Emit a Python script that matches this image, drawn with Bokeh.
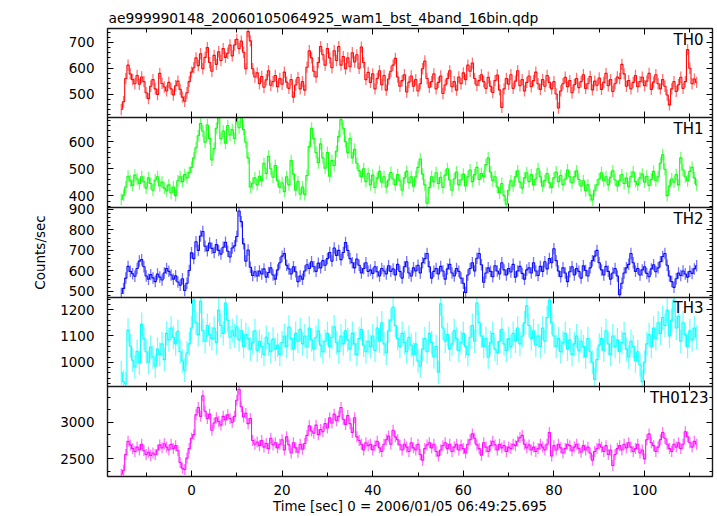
import math
from bokeh.plotting import figure
from bokeh.models import (ColumnDataSource, Range1d, LinearAxis, SingleIntervalTicker,
                          FixedTicker, CustomJSTickFormatter, AllLabels, Label)
from bokeh.embed import file_html
from bokeh.resources import INLINE

# ---------------- data (0.5 s bins starting at t = -15.5 s) ----------------
t_first = -15.5
bin_sec = 0.5

th0 = [
    440, 470, 560, 612, 578, 556, 540, 572, 538, 566,
    548, 505, 482, 530, 556, 520, 498, 580, 541, 527,
    512, 545, 520, 496, 532, 550, 518, 488, 472, 505,
    548, 585, 602, 640, 610, 656, 598, 642, 680, 622,
    588, 650, 615, 664, 630, 676, 642, 658, 690, 648,
    690, 712, 676, 705, 662, 598, 742, 706, 598, 566,
    582, 540, 568, 526, 555, 590, 534, 548, 572, 528,
    560, 538, 585, 546, 522, 556, 488, 535, 564, 520,
    548, 515, 604, 668, 640, 588, 566, 622, 684, 652,
    612, 676, 640, 602, 668, 630, 684, 612, 645, 598,
    640, 606, 660, 624, 652, 600, 682, 622, 556, 584,
    545, 578, 520, 560, 590, 536, 572, 515, 558, 588,
    612, 638, 566, 530, 552, 575, 508, 546, 570, 530,
    556, 512, 540, 598, 628, 560, 526, 548, 578, 520,
    545, 570, 502, 535, 560, 590, 528, 548, 515, 566,
    540, 582, 556, 612, 588, 620, 560, 534, 552, 575,
    548, 522, 565, 530, 506, 552, 574, 516, 448, 520,
    560, 538, 575, 522, 550, 590, 532, 556, 512, 545,
    570, 528, 552, 585, 540, 518, 556, 530, 572, 545,
    520, 548, 500, 446, 512, 540, 565, 528, 552, 505,
    536, 560, 525, 548, 575, 522, 540, 568, 516, 550,
    534, 562, 518, 545, 580, 532, 556, 510, 540, 566,
    560, 615, 578, 530, 552, 520, 545, 572, 528, 548,
    565, 532, 550, 580, 518, 546, 575, 540, 520, 556,
    530, 496, 458, 520, 548, 510, 536, 565, 522, 548,
    672, 600, 540, 558, 545,
]

th1 = [
    386, 402, 432, 472, 455, 438, 476, 462, 444, 470,
    452, 428, 466, 445, 420, 458, 470, 436, 450, 428,
    418, 440, 410, 432, 400, 455, 470, 452, 478, 466,
    486, 505, 540, 578, 622, 668, 640, 598, 662, 612,
    532, 575, 650, 688, 612, 640, 595, 660, 625, 645,
    612, 686, 652, 690, 645, 598, 540, 432, 446, 466,
    440, 472, 455, 520, 482, 546, 500, 468, 512, 456,
    430, 448, 415, 470, 440, 530, 480, 420, 452, 405,
    432, 404, 475, 582, 650, 612, 560, 522, 592, 540,
    502, 560, 472, 530, 512, 565, 620, 682, 650, 600,
    560, 612, 540, 572, 520, 492, 470, 500, 452, 482,
    440, 476, 430, 465, 490, 450, 470, 432, 458, 486,
    462, 440, 478, 455, 420, 466, 490, 448, 470, 435,
    470, 505, 536, 480, 440, 372, 430, 470, 452, 485,
    445, 468, 430, 476, 500, 458, 420, 462, 488, 440,
    458, 480, 436, 470, 495, 452, 478, 505, 460, 482,
    470, 515, 540, 488, 455, 470, 432, 410, 445, 400,
    368, 420, 455, 436, 470, 492, 450, 428, 466, 485,
    452, 478, 440, 462, 500, 470, 435, 456, 482, 448,
    430, 466, 488, 452, 475, 440, 462, 495, 470, 448,
    470, 492, 460, 436, 455, 418, 440, 402, 384, 420,
    440, 462, 485, 455, 470, 440, 468, 492, 458, 436,
    455, 478, 445, 465, 432, 470, 488, 452, 440, 466,
    480, 450, 472, 438, 460, 490, 455, 470, 520, 552,
    498, 400, 436, 462, 450, 478, 440, 540, 495, 470,
    455, 490, 505, 466, 440,
]

th2 = [
    490, 515, 565, 622, 598, 586, 574, 612, 648, 655,
    620, 575, 560, 582, 566, 548, 585, 570, 556, 590,
    612, 598, 580, 560, 576, 546, 530, 562, 505, 540,
    602, 688, 660, 742, 700, 770, 792, 720, 698, 736,
    710, 690, 728, 700, 682, 715, 740, 696, 668, 712,
    722, 768, 892, 840, 732, 648, 702, 618, 578, 596,
    575, 600, 585, 610, 570, 592, 615, 580, 560, 605,
    640, 672, 685, 628, 610, 585, 620, 596, 548, 575,
    560, 600, 630, 612, 645, 620, 598, 638, 615, 650,
    628, 660, 690, 648, 712, 676, 700, 655, 690, 738,
    700, 660, 640, 615, 658, 628, 590, 612, 640, 598,
    605, 588, 620, 596, 575, 612, 600, 585, 625, 598,
    610, 580, 632, 598, 565, 620, 645, 590, 575, 615,
    600, 628, 590, 640, 660, 685, 620, 565, 598, 612,
    585, 622, 600, 560, 610, 632, 590, 575, 612, 598,
    565, 540, 495, 580, 612, 640, 600, 662, 685, 630,
    545, 590, 615, 598, 572, 625, 600, 585, 640, 605,
    580, 612, 595, 632, 570, 600, 622, 588, 560, 605,
    615, 590, 640, 600, 578, 622, 598, 645, 610, 660,
    640, 708, 650, 600, 572, 615, 590, 548, 596, 620,
    580, 612, 598, 565, 625, 602, 575, 615, 650, 672,
    700, 640, 605, 580, 622, 598, 560, 590, 612, 575,
    484, 540, 590, 615, 632, 685, 640, 598, 612, 580,
    605, 620, 588, 572, 610, 630, 596, 615, 645, 670,
    685, 628, 575, 548, 520, 562, 590, 578, 600, 585,
    570, 598, 588, 610, 625,
]

th3 = [
    960, 926, 918, 1122, 1062, 1008, 982, 1042, 998, 1145,
    1090, 1040, 1000, 1058, 1020, 985, 1050, 1030, 1070, 1010,
    1110, 1085, 1130, 1095, 1070, 1118, 1040, 1005, 970, 1035,
    1070, 1130, 1236, 1150, 1105, 1232, 1120, 1080, 1140, 1105,
    1090, 1130, 1075, 1198, 1140, 1110, 1225, 1160, 1095, 1120,
    1100, 1135, 1085, 1120, 1060, 1105, 1090, 1050, 1075, 1120,
    1045, 1080, 1060, 1030, 1095, 1070, 1040, 1088, 1050, 1065,
    1030, 1075, 1100, 1060, 1134, 1090, 1050, 1110, 1080, 1125,
    1070, 1100, 1058, 1130, 1085, 1050, 1095, 1120, 1065, 1040,
    1080, 1110, 1060, 1095, 1135, 1075, 1040, 1100, 1070, 1120,
    1085, 1050, 1110, 1070, 1030, 1090, 1125, 1065, 1040, 1080,
    1060, 1100, 1045, 1130, 1080, 1150, 1070, 1035, 1120, 1160,
    1210, 1140, 1090, 1060, 1110, 1075, 1040, 1095, 1065, 1030,
    1070, 1005, 985, 1050, 1090, 1040, 1110, 1075, 1020, 1060,
    962, 1222, 1130, 1080, 1105, 1050, 1070, 1120, 1090, 1045,
    1075, 1110, 1060, 1030, 1095, 1140, 1080, 1225, 1150, 1100,
    1060, 1090, 1020, 1075, 1110, 1050, 1035, 1080, 1125, 1070,
    1045, 1090, 1060, 1110, 1080, 1130, 1070, 1100, 1150, 1215,
    1140, 1090, 1120, 1065, 1100, 1060, 1130, 1080, 1170, 1236,
    1150, 1100, 1060, 1090, 1040, 1075, 1110, 1050, 1085, 1030,
    1070, 1100, 1045, 1080, 1060, 1020, 1090, 1040, 1000, 935,
    1010, 1065, 1090, 1045, 1120, 1070, 1030, 1100, 1060, 1085,
    1040, 1075, 1110, 1050, 1020, 1080, 1060, 1005, 1040, 990,
    925, 1000, 1070, 1105, 1060, 1130, 1090, 1150, 1110, 1170,
    1140, 1198, 1100, 1160, 1236, 1130, 1175, 1080, 1150, 1105,
    1060, 1120, 1085, 1130, 1095,
]

th0123 = [
    2290, 2345, 2560, 2740, 2690, 2640, 2600, 2660, 2620, 2700,
    2610, 2560, 2590, 2545, 2580, 2555, 2620, 2690, 2650, 2705,
    2660, 2620, 2700, 2640, 2680, 2610, 2450, 2372, 2355, 2510,
    2640, 2780, 2830, 3100, 3200, 3080, 3360, 3150, 3050, 3110,
    2890, 2990, 3060, 3010, 2960, 3080, 3030, 3100, 3050, 3000,
    3080, 3300, 3450, 3210, 3070, 3120, 2980, 3050, 2750, 2700,
    2730, 2680, 2750, 2660, 2710, 2640, 2780, 2690, 2720, 2650,
    2700, 2760, 2620, 2800, 2690, 2580, 2720, 2650, 2590, 2700,
    2630, 2710, 2820, 2950, 2880, 2850, 2960, 2830, 2900, 2870,
    2980, 2920, 3060, 2990, 3110, 3020, 3080, 3200, 3040, 2970,
    3090, 2980, 2860, 3060, 2800, 2750, 2700, 2620, 2720, 2680,
    2700, 2620, 2680, 2740, 2650, 2600, 2700, 2760, 2810, 2700,
    2890, 2800, 2760, 2690, 2620, 2700, 2660, 2600, 2720, 2650,
    2620, 2700, 2560, 2480, 2640, 2690, 2720, 2650, 2700, 2600,
    2540, 2620, 2680, 2720, 2640, 2700, 2600, 2660, 2700, 2620,
    2690, 2640, 2580, 2700, 2760, 2840, 2780, 2690, 2640, 2550,
    2720, 2660, 2600, 2680, 2740, 2690, 2620, 2700, 2650, 2680,
    2600, 2660, 2640, 2700, 2680, 2740, 2790, 2820, 2700, 2650,
    2690, 2620, 2660, 2600, 2640, 2700, 2660, 2620, 2700, 2860,
    2540, 2680, 2620, 2700, 2650, 2580, 2640, 2700, 2680, 2610,
    2660, 2700, 2640, 2590, 2680, 2620, 2660, 2580, 2480, 2600,
    2640, 2700, 2660, 2600, 2680, 2560, 2620, 2410, 2560, 2640,
    2680, 2620, 2700, 2650, 2720, 2660, 2600, 2640, 2700, 2580,
    2620, 2500, 2760, 2840, 2720, 2680, 2600, 2660, 2760, 2860,
    2780, 2700, 2640, 2600, 2700, 2660, 2720, 2640, 2700, 2870,
    2800, 2720, 2660, 2740, 2700,
]

panel_names = ["TH0", "TH1", "TH2", "TH3", "TH0123"]
panel_values = [th0, th1, th2, th3, th0123]
panel_errors = [22, 22, 28, 45, 75]          # approximate 1-sigma, counts/sec
panel_colors = ["#ff0000", "#00ff00", "#0000ff", "#00ffff", "#ff00ff"]
panel_yranges = [(409, 754), (356, 690), (473, 909), (908, 1248), (2259, 3487)]
panel_major_step = [100, 100, 100, 100, 500]
panel_minor_step = [20, 20, 20, 20, 500 / 3]

title_text = "ae999990148_20060105064925_wam1_bst_4band_16bin.qdp"
xlabel_text = "Time [sec] 0 = 2006/01/05 06:49:25.695"
ylabel_text = "Counts/sec"

# ---------------- layout constants ----------------
FONT = "DejaVu Sans"
X_START, X_END = -18.54, 115.0
# vertical bands of the stacked panels, in frame units (bottom = 0)
band_edges = [448.0, 359.0, 269.0, 179.5, 90.0, 0.0]
FRAME_H = band_edges[0]

p = figure(width=717, height=516,
           x_range=Range1d(X_START, X_END), y_range=Range1d(0, FRAME_H),
           output_backend="svg", toolbar_location=None,
           x_axis_location=None, y_axis_location=None,
           min_border_left=107, min_border_right=5, min_border_top=28, min_border_bottom=40,
           title=title_text)
p.xgrid.visible = False
p.ygrid.visible = False
p.outline_line_color = "#1a1a1a"
p.outline_line_width = 1.4
p.background_fill_color = "white"
p.border_fill_color = "white"
p.title.align = "left"
p.title.offset = 1
p.title.standoff = 6
p.title.text_font = FONT
p.title.text_font_size = "13.8px"
p.title.text_font_style = "normal"
p.title.text_color = "black"


def style_ticks(ax, tin=6, tout=0, min_in=3, min_out=0):
    ax.axis_line_color = None
    ax.major_tick_in = tin
    ax.major_tick_out = tout
    ax.minor_tick_in = min_in
    ax.minor_tick_out = min_out
    ax.major_tick_line_color = "black"
    ax.minor_tick_line_color = "black"
    ax.major_tick_line_width = 1
    ax.minor_tick_line_width = 1


def hide_labels(ax):
    ax.major_label_text_color = None
    ax.major_label_text_font_size = "1px"
    ax.major_label_standoff = 0


# per-panel y ranges mapped onto their band, plus y tick positions
major_pos, major_lab, minor_pos = [], [], []
for k, name in enumerate(panel_names):
    lo, hi = panel_yranges[k]
    b_top, b_bot = band_edges[k], band_edges[k + 1]
    s = (hi - lo) / (b_top - b_bot)
    p.extra_y_ranges[name] = Range1d(lo - b_bot * s, hi + (FRAME_H - b_top) * s)

    def to_frame(v):
        return b_bot + (v - lo) / s

    step = panel_major_step[k]
    v = math.ceil(lo / step) * step
    while v <= hi:
        major_pos.append(to_frame(v))
        major_lab.append(str(int(v)))
        v += step
    mstep = panel_minor_step[k]
    j = math.ceil(lo / mstep - 1e-9)
    while j * mstep <= hi:
        mv = j * mstep
        if abs(mv / step - round(mv / step)) > 1e-6:
            minor_pos.append(to_frame(mv))
        j += 1

    vals = panel_values[k]
    err = panel_errors[k]
    src = ColumnDataSource(dict(
        t=[t_first + bin_sec * i for i in range(len(vals))],
        v=vals,
        lo=[max(x - err, lo) for x in vals],
        hi=[min(x + err, hi) for x in vals],
    ))
    col = panel_colors[k]
    p.segment(x0="t", y0="lo", x1="t", y1="hi", source=src, y_range_name=name,
              line_color=col, line_width=1.3, line_alpha=0.55)
    p.step(x="t", y="v", source=src, mode="center", y_range_name=name,
           line_color=col, line_width=1.1, line_alpha=0.95)

    p.add_layout(Label(x=X_END, y=hi, y_range_name=name, x_offset=(-4 if k == 4 else -9),
                       y_offset=-2, text=name, text_align="right", text_baseline="top",
                       text_font=FONT, text_font_size="15px", text_color="black"))

label_fmt = CustomJSTickFormatter(args=dict(pos=major_pos, lab=major_lab), code="""
let best = 0;
for (let i = 0; i < pos.length; i++) {
  if (Math.abs(pos[i] - tick) < Math.abs(pos[best] - tick)) best = i;
}
return lab[best];
""")

left = LinearAxis(ticker=FixedTicker(ticks=major_pos, minor_ticks=minor_pos),
                  formatter=label_fmt, major_label_policy=AllLabels())
style_ticks(left)
left.major_label_text_font = FONT
left.major_label_text_font_size = "13.5px"
left.major_label_text_color = "black"
left.major_label_standoff = 13
left.axis_label = ylabel_text
left.axis_label_text_font = FONT
left.axis_label_text_font_size = "13.5px"
left.axis_label_text_font_style = "normal"
left.axis_label_text_color = "black"
left.axis_label_standoff = 9
p.add_layout(left, "left")

right = LinearAxis(ticker=FixedTicker(ticks=major_pos, minor_ticks=minor_pos))
style_ticks(right)
hide_labels(right)
p.add_layout(right, "right")

top = LinearAxis(ticker=SingleIntervalTicker(interval=20, num_minor_ticks=2))
style_ticks(top, 6, 0, 4, 0)
hide_labels(top)
p.add_layout(top, "above")

bottom = LinearAxis(ticker=SingleIntervalTicker(interval=20, num_minor_ticks=2))
style_ticks(bottom, 6, 0, 4, 0)
bottom.major_label_text_font = FONT
bottom.major_label_text_font_size = "13.5px"
bottom.major_label_text_color = "black"
bottom.major_label_standoff = 8
bottom.axis_label = xlabel_text
bottom.axis_label_text_font = FONT
bottom.axis_label_text_font_size = "13.4px"
bottom.axis_label_text_font_style = "normal"
bottom.axis_label_text_color = "black"
bottom.axis_label_standoff = 1
p.add_layout(bottom, "below")

# panel boundaries: separator line with ticks pointing into both neighbouring panels
for yb in band_edges[1:-1]:
    up = LinearAxis(ticker=SingleIntervalTicker(interval=20, num_minor_ticks=2), fixed_location=yb)
    style_ticks(up, 6, 0, 4, 0)
    hide_labels(up)
    up.axis_line_color = "#1a1a1a"
    up.axis_line_width = 1.4
    p.add_layout(up, "below")
    down = LinearAxis(ticker=SingleIntervalTicker(interval=20, num_minor_ticks=2), fixed_location=yb)
    style_ticks(down, 6, 0, 4, 0)
    hide_labels(down)
    p.add_layout(down, "above")

open("out.html", "w").write(file_html(p, INLINE))
